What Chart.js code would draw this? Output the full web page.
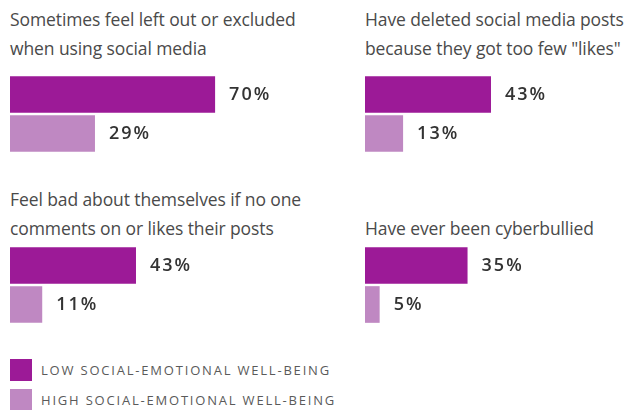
<!DOCTYPE html>
<html>
<head>
<meta charset="utf-8">
<script src="https://cdn.jsdelivr.net/npm/chart.js@4"></script>
<style>
  body { margin: 0; background: #fff; }
  #wrap { position: relative; width: 644px; height: 410px; overflow: hidden; background: #fff; }
  .title { position: absolute; font-family: 'Open Sans', sans-serif; font-size: 17.5px; color: #4a4a4a; line-height: 29px; white-space: pre; letter-spacing: -0.1px; }
  .panel { position: absolute; }
  .legend { position: absolute; left: 10px; font-family: 'Open Sans', sans-serif; font-size: 13px; color: #5a5a5a; letter-spacing: 1.8px; }
  .legend div { height: 22px; line-height: 22px; margin-bottom: 8px; display: flex; align-items: center; }
  .legend span.sw { width: 22px; height: 22px; display: inline-block; margin-right: 9px; }
</style>
</head>
<body>
<div id="wrap"></div>
<script>
// data
const titles = [
  'Sometimes feel left out or excluded\nwhen using social media',
  'Have deleted social media posts\nbecause they got too few "likes"',
  'Feel bad about themselves if no one\ncomments on or likes their posts',
  'Have ever been cyberbullied',
];
const lowWellBeing = [70, 43, 43, 35];
const highWellBeing = [29, 13, 11, 5];
const seriesLabels = ['LOW SOCIAL-EMOTIONAL WELL-BEING', 'HIGH SOCIAL-EMOTIONAL WELL-BEING'];

const colors = ['#9c1a97', '#bf88c2'];

// panel placement
const panels = [
  { left: 10, titleTop: 5, barTop: 75 },
  { left: 365, titleTop: 5, barTop: 75 },
  { left: 10, titleTop: 185, barTop: 246 },
  { left: 365, titleTop: 214, barTop: 246 },
];

// value labels at bar ends
const valueLabels = {
  id: 'valueLabels',
  afterDatasetsDraw(chart) {
    const ctx = chart.ctx;
    ctx.save();
    ctx.font = '600 18px "Open Sans"';
    ctx.letterSpacing = '2px';
    ctx.fillStyle = '#333';
    ctx.textBaseline = 'middle';
    chart.getDatasetMeta(0).data.forEach((bar, i) => {
      ctx.fillText(chart.data.datasets[0].data[i] + '%', bar.x + 14, bar.y);
    });
    ctx.restore();
  },
};

const wrap = document.getElementById('wrap');

titles.forEach((t, i) => {
  const p = panels[i];
  const title = document.createElement('div');
  title.className = 'title';
  title.style.left = p.left + 'px';
  title.style.top = p.titleTop + 'px';
  title.textContent = t;
  wrap.appendChild(title);

  const holder = document.createElement('div');
  holder.className = 'panel';
  holder.style.left = p.left + 'px';
  holder.style.top = p.barTop + 'px';
  const canvas = document.createElement('canvas');
  canvas.width = 293;
  canvas.height = 78;
  holder.appendChild(canvas);
  wrap.appendChild(holder);

  new Chart(canvas, {
    type: 'bar',
    data: {
      labels: seriesLabels,
      datasets: [
        {
          data: [lowWellBeing[i], highWellBeing[i]],
          backgroundColor: colors,
          barPercentage: 0.94,
          categoryPercentage: 1,
        },
      ],
    },
    options: {
      indexAxis: 'y',
      responsive: false,
      animation: false,
      layout: { padding: 0 },
      plugins: {
        legend: { display: false },
        tooltip: { enabled: false },
      },
      scales: {
        x: { min: 0, max: 100, display: false },
        y: { display: false },
      },
    },
    plugins: [valueLabels],
  });
});

// legend
const legend = document.createElement('div');
legend.className = 'legend';
legend.style.top = '359px';
seriesLabels.forEach((s, i) => {
  const row = document.createElement('div');
  const sw = document.createElement('span');
  sw.className = 'sw';
  sw.style.background = colors[i];
  row.appendChild(sw);
  row.appendChild(document.createTextNode(s));
  legend.appendChild(row);
});
wrap.appendChild(legend);
</script>
</body>
</html>
